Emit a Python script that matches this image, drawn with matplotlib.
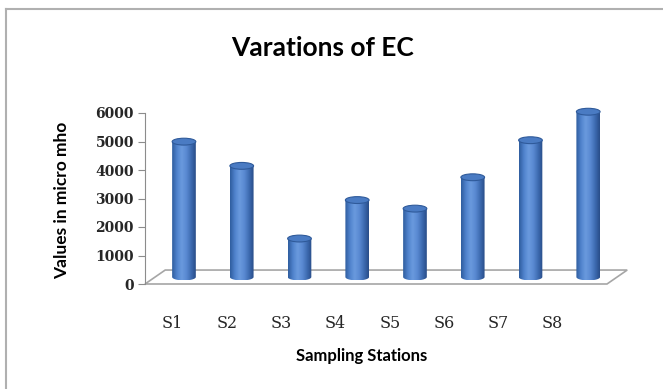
import numpy as np
from matplotlib import pyplot as plt
from matplotlib.patches import Polygon, Ellipse
from matplotlib.colors import LinearSegmentedColormap
from matplotlib.lines import Line2D

stations = ['S1', 'S2', 'S3', 'S4', 'S5', 'S6', 'S7', 'S8']
ec_values = [4750, 3900, 1350, 2700, 2400, 3500, 4800, 5800]
yticks = [0, 1000, 2000, 3000, 4000, 5000, 6000]

fig = plt.figure(figsize=(6.63, 3.89), dpi=100)
ax = fig.add_axes([145/663, 1 - 284/389, 462/663, 171/389])
ax.set_xlim(0, 8)
ax.set_ylim(0, 6000)

# fake 3d floor
depth_x, depth_y = 0.35, 490
floor = Polygon([(0, 0), (8, 0), (8 + depth_x, depth_y), (depth_x, depth_y)],
                closed=True, facecolor='white', edgecolor='#a6a6a6', lw=1.2,
                zorder=1, clip_on=False)
ax.add_patch(floor)

cyl = LinearSegmentedColormap.from_list(
    'cyl', ['#2f5d9e', '#4f82cc', '#6a9ade', '#5a8ad2', '#3e6cb2', '#284d88'])
grad = np.linspace(0, 1, 64).reshape(1, -1)

half_w = 0.205
ell_h = 240
base = depth_y / 2
for i, v in enumerate(ec_values):
    cx = i + 0.5 + depth_x / 2
    top = base + v
    t = np.linspace(np.pi, 2 * np.pi, 40)
    bottom = np.column_stack([cx + half_w * np.cos(t), base + ell_h / 2 * np.sin(t)])
    outline = np.vstack([bottom, [[cx + half_w, top], [cx - half_w, top]]])
    body = Polygon(outline, closed=True, facecolor='none', edgecolor='none',
                   clip_on=False)
    ax.add_patch(body)
    im = ax.imshow(grad, cmap=cyl, aspect='auto', zorder=3,
                   extent=[cx - half_w, cx + half_w, base - ell_h / 2, top],
                   interpolation='bicubic')
    im.set_clip_path(body)
    ax.add_patch(Ellipse((cx, top), 2 * half_w, ell_h, facecolor='#4a7bc3',
                         edgecolor='#2f5a9a', lw=0.8, zorder=4, clip_on=False))

ax.set_xlim(0, 8)
ax.set_ylim(0, 6000)

for side in ['top', 'right', 'bottom']:
    ax.spines[side].set_visible(False)
ax.spines['left'].set_color('#8c8c8c')
ax.set_yticks(yticks)
ax.set_yticklabels([str(y) for y in yticks], fontfamily='DejaVu Serif',
                   fontweight='bold', fontsize=10, color='#262626')
ax.tick_params(axis='y', direction='out', length=5, color='#8c8c8c', pad=3)
ax.set_xticks([0.48 + 0.94 * i for i in range(len(stations))])
ax.set_xticklabels(stations, fontfamily='DejaVu Serif', fontsize=11.5, color='#262626')
ax.tick_params(axis='x', length=0, pad=22)

fig.text(323/663, 1 - 48/389, 'Varations of EC', ha='center', va='center',
         fontfamily='Lato', fontweight='bold', fontsize=19)
fig.text(362/663, 1 - 356/389, 'Sampling Stations', ha='center', va='center',
         fontfamily='Lato', fontweight='bold', fontsize=12)
fig.text(62/663, 1 - 200/389, 'Values in micro mho', ha='center', va='center',
         rotation=90, fontfamily='Lato', fontweight='bold', fontsize=12.5)

# chart area border (left and top only visible)
fig.add_artist(Line2D([6/663, 6/663], [0, 1 - 9/389], color='#b0b0b0', lw=1.5))
fig.add_artist(Line2D([6/663, 1], [1 - 9/389, 1 - 9/389], color='#b0b0b0', lw=1.5))

fig.savefig('out.png', dpi=100)
